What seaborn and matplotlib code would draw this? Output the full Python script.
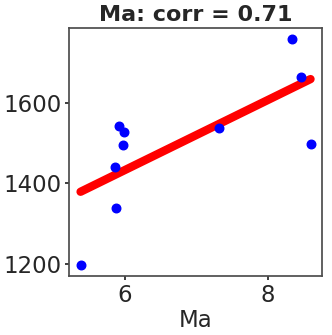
import numpy as np
import pandas as pd
import matplotlib
matplotlib.use('Agg')
import matplotlib.pyplot as plt
import seaborn as sns

# values
ma = [5.376, 5.87, 5.855, 5.92, 5.99, 5.97, 7.31, 8.34, 8.46, 8.60]
target = [1197, 1339, 1441, 1542, 1527, 1495, 1536, 1757, 1664, 1496]
x_ticks = [6, 8]
y_ticks = [1200, 1400, 1600]

df = pd.DataFrame({'Ma': ma, 'target': target})

sns.set_theme(style='ticks')
fig = plt.figure(figsize=(3.32, 3.35), dpi=100)
ax = fig.add_axes([0.208, 0.176, 0.762, 0.740])

sns.regplot(data=df, x='Ma', y='target', ax=ax, ci=None,
            scatter_kws={'color': 'blue', 's': 38, 'alpha': 1, 'zorder': 3},
            line_kws={'color': 'red', 'linewidth': 6, 'solid_capstyle': 'round'})

ax.set_xticks(x_ticks)
ax.set_yticks(y_ticks)
ax.tick_params(labelsize=16.5, length=3, pad=2.5)
ax.set_xlabel('Ma', fontsize=16.5, labelpad=2)
ax.set_ylabel('')
ax.set_title('Ma: corr = 0.71', fontsize=16, fontweight='bold', pad=5)
for s in ax.spines.values():
    s.set_color('.3')

fig.savefig('out.png', dpi=100)
